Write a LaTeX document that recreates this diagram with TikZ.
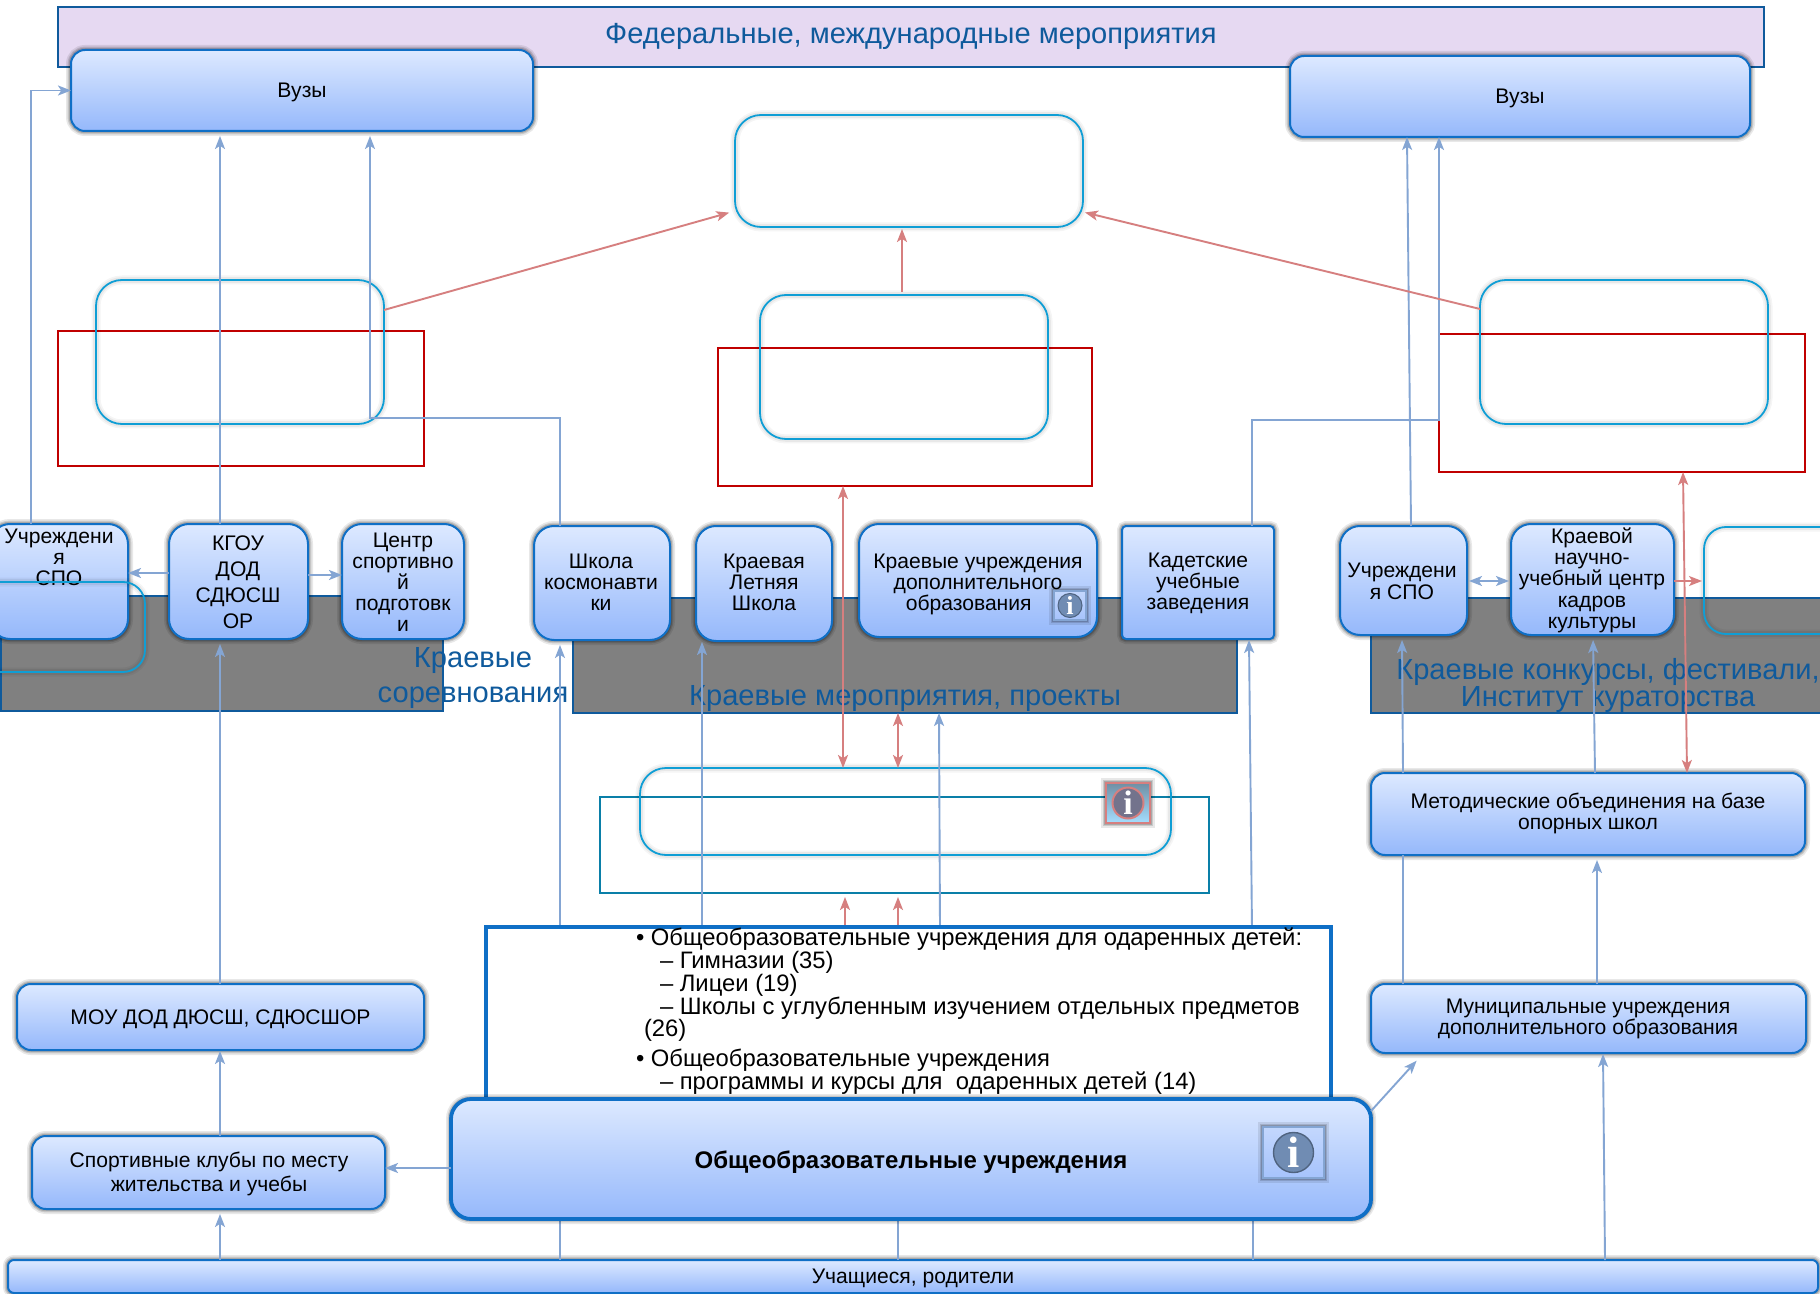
\documentclass[tikz,border=0pt]{standalone}
\usepackage{fontspec}
\setmainfont{Liberation Sans}
\newfontfamily\iserif{Liberation Serif}
\usetikzlibrary{arrows.meta}
\definecolor{nodeb}{HTML}{0F6FC6}
\definecolor{gtop}{HTML}{DDE9FF}
\definecolor{gbot}{HTML}{95B8FB}
\definecolor{lblue}{HTML}{84A5D3}
\definecolor{lred}{HTML}{D67F7F}
\definecolor{darkred}{HTML}{C00000}
\definecolor{cyanb}{HTML}{0F9ED5}
\definecolor{tealb}{HTML}{0A7FA8}
\definecolor{titleb}{HTML}{0F5A9C}
\definecolor{purp}{HTML}{E6D9F2}
\definecolor{icA}{HTML}{C3D7FD}
\definecolor{icB}{HTML}{A6C3FC}
\definecolor{icC}{HTML}{6F8FA5}
\definecolor{icD}{HTML}{A5DEFF}
\tikzset{
  softglow/.style={preaction={draw=black,draw opacity=.09,line width=5pt},preaction={draw=black,draw opacity=.13,line width=3.4pt},preaction={draw=black,draw opacity=.16,line width=2.2pt}},
  softglowc/.style={preaction={draw=black,draw opacity=.04,line width=4.5pt},preaction={draw=black,draw opacity=.05,line width=2.8pt}},
  base/.style={inner sep=0pt,outer sep=0pt,align=center,font=\fontsize{10.55}{10.6}\selectfont},
  tx/.style={base,yshift=-1.15pt},
  bbox/.style={base,softglow,draw=nodeb,line width=1pt,top color=gtop,bottom color=gbot,rounded corners=#1},
  bbox/.default=7pt,
  cbox/.style={base,softglowc,draw=cyanb,line width=.9pt,rounded corners=#1},
  cbox/.default=13pt,
  rbox/.style={base,draw=darkred,line width=.9pt},
  tbox/.style={base,draw=tealb,line width=.9pt},
  gbox/.style={base,draw=titleb,line width=.9pt,fill=gray},
  pbox/.style={base,draw=titleb,line width=.9pt,fill=purp},
  bigt/.style={base,yshift=-1.15pt,text=titleb,font=\fontsize{14.55}{17.3}\selectfont},
  barr/.style={draw=lblue,line width=.95pt,-{Stealth[length=6.5pt,width=5pt,inset=1.6pt]},shorten >=#1},
  barr/.default=2.5pt,
  barrd/.style={draw=lblue,line width=.95pt,{Stealth[length=6.5pt,width=5pt,inset=1.6pt]}-{Stealth[length=6.5pt,width=5pt,inset=1.6pt]},shorten >=1pt,shorten <=1pt},
  bline/.style={draw=lblue,line width=.95pt},
  rarr/.style={draw=lred,line width=.95pt,-{Stealth[length=6.5pt,width=5pt,inset=1.6pt]},shorten >=#1},
  rarr/.default=1pt,
  rarrd/.style={draw=lred,line width=.95pt,{Stealth[length=6.5pt,width=5pt,inset=1.6pt]}-{Stealth[length=6.5pt,width=5pt,inset=1.6pt]}},
  iconsq/.style={inner sep=0pt,outer sep=0pt,softglow,line width=.9pt},
  iconi/.style={circle,inner sep=0pt,outer sep=0pt,text=white,align=center},
}
\newcommand{\boxn}[8][]{\node[#2,#1,minimum width={(#6-#4)*0.5pt},minimum height={(#7-#5)*0.5pt}] (#3) at ({(#4+#6)/2},{(#5+#7)/2}) {#8};}
\newcommand{\iconn}[8]{%
  \node[iconsq,draw=#6,top color=#7,bottom color=#8,minimum width={(#4-#2)*0.5pt},minimum height={(#5-#3)*0.5pt}] (#1) at ({(#2+#4)/2},{(#3+#5)/2}) {};}
\begin{document}
\begin{tikzpicture}[x=0.5pt,y=-0.5pt]
\useasboundingbox (0,0) rectangle (1820,1294);
\fill[white] (0,0) rectangle (1820,1294);
% bands
\boxn{pbox}{top}{58}{7}{1764}{67}{}
\boxn{gbox}{grayL}{1}{596}{443}{711}{}
\boxn{gbox}{grayC}{573}{598}{1237}{713}{}
\boxn{gbox}{grayR}{1371}{598}{1900}{713}{}
\node[bigt] (toptxt) at (911,34) {Федеральные, международные мероприятия};
\node[bigt] (tL) at (473,676) {Краевые\\соревнования};
\node[bigt] (tC) at (905,696) {Краевые мероприятия, проекты};
\node[bigt,font=\fontsize{14.55}{13.4}\selectfont] (tR) at (1608,683) {Краевые конкурсы, фестивали,\\Институт кураторства};
% empty frames
\boxn{rbox}{redL}{58}{331}{424}{466}{}
\boxn{rbox}{redC}{718}{348}{1092}{486}{}
\boxn{rbox}{redR}{1439}{334}{1805}{472}{}
\boxn{tbox}{tealC}{600}{797}{1209}{893}{}
\boxn{cbox}{cyT}{735}{115}{1083}{227}{}
\boxn{cbox}{cyL}{96}{280}{384}{424}{}
\boxn{cbox}{cyC}{760}{295}{1048}{439}{}
\boxn{cbox}{cyR}{1480}{280}{1768}{424}{}
\boxn{cbox}{cyM}{640}{768}{1171}{855}{}
\boxn[rounded corners=11pt]{cbox}{cyRs}{1704}{527}{1900}{634}{}
% boxes
\boxn{bbox}{vuzL}{71}{50}{533}{131}{}
\boxn{bbox}{vuzR}{1290}{56}{1750}{137}{}
\boxn[rounded corners=10pt]{bbox}{spoL}{-10}{524}{128}{639}{}
\boxn[rounded corners=10pt]{bbox}{kgou}{169}{524}{308}{639}{}
\boxn[rounded corners=10pt]{bbox}{centr}{342}{524}{464}{639}{}
\boxn[rounded corners=10pt]{bbox}{shkola}{534}{526}{670}{640}{}
\boxn[rounded corners=10pt]{bbox}{letn}{696}{526}{832}{641}{}
\boxn[rounded corners=10pt]{bbox}{kruch}{859}{524}{1097}{637}{}
\boxn[rounded corners=2pt]{bbox}{kadet}{1122}{526}{1274}{639}{}
\boxn[rounded corners=10pt]{bbox}{spoR}{1340}{526}{1467}{635}{}
\boxn[rounded corners=10pt]{bbox}{kraev}{1511}{524}{1674}{635}{}
\boxn{bbox}{metod}{1371}{773}{1805}{855}{}
\boxn{bbox}{munic}{1371}{984}{1806}{1053}{}
\boxn{bbox}{mou}{17}{984}{424}{1050}{}
\boxn{bbox}{sport}{32}{1136}{385}{1209}{}
\boxn[rounded corners=3pt]{bbox}{uchas}{8}{1260}{1818}{1293}{}
% connectors
\draw[barr=0pt] (spoL.north -| 31,0) |- (vuzL.west);
\draw[barr] (kgou.north -| 220,0) -- (vuzL.south -| 220,0);
\coordinate (eL1) at (560,418);
\coordinate (eL2) at (370,418);
\draw[barr] (shkola.north -| 560,0) -- (eL1) -- (eL2) -- (vuzL.south -| 370,0);
\coordinate (eR1) at (1252,420);
\coordinate (eR2) at (1439,420);
\draw[barr=0pt] (kadet.north -| 1252,0) -- (eR1) -- (eR2) -- (vuzR.south -| 1439,0);
\draw[barr=0pt] (spoR.north -| 1411,0) -- (vuzR.south -| 1407,0);
\draw[rarr=3pt] (cyL.east |- 0,310) -- (cyT.west |- 0,211);
\draw[rarr] (cyR.west |- 0,309) -- (cyT.east |- 0,212);
\draw[rarr,shorten <=1.7pt] (cyC.north -| 902,0) -- (cyT.south -| 902,0);
\draw[rarrd] (redC.south -| 843,0) -- (cyM.north -| 843,0);
\draw[rarrd] (grayC.south -| 898,0) -- (cyM.north -| 898,0);
\draw[barr=0pt] (kgou.west |- 0,573) -- (spoL.east |- 0,573);
\draw[barr=0pt] (kgou.east |- 0,575) -- (centr.west |- 0,575);
\draw[barrd] (spoR.east |- 0,581) -- (kraev.west |- 0,581);
\draw[rarr] (kraev.east |- 0,581) -- (cyRs.west |- 0,581);
\draw[rarrd] (redR.south -| 1683,0) -- (metod.north -| 1687,0);
\draw[barr] (mou.north -| 220,0) -- (kgou.south -| 220,0);
\draw[barr=.5pt] (sport.north -| 220,0) -- (mou.south -| 220,0);
\draw[barr] (uchas.north -| 220,0) -- (sport.south -| 220,0);
\coordinate (w1) at (560,930); \coordinate (w2) at (702,930); \coordinate (w3) at (940,930);
\coordinate (w4) at (1252,930); \coordinate (w5) at (845,930); \coordinate (w6) at (898,930);
\draw[barr] (w1) -- (shkola.south -| 560,0);
\draw[barr=.5pt] (w2) -- (letn.south -| 702,0);
\draw[barr=0pt] (w3) -- (grayC.south -| 939,0);
\draw[barr=.5pt] (w4) -- (kadet.south -| 1249,0);
\draw[rarr=2pt] (w5) -- (tealC.south -| 845,0);
\draw[rarr=2pt] (w6) -- (tealC.south -| 898,0);
\draw[barr] (metod.north -| 1403,0) -- (spoR.south -| 1402,0);
\draw[barr] (metod.north -| 1595,0) -- (kraev.south -| 1593,0);
\draw[barr] (munic.north -| 1597,0) -- (metod.south -| 1597,0);
\draw[bline] (munic.north -| 1403,0) -- (metod.south -| 1403,0);
\draw[barr=.5pt] (uchas.north -| 1605,0) -- (munic.south -| 1603,0);
\coordinate (oL) at (560,1215); \coordinate (oC) at (898,1215); \coordinate (oR) at (1253,1215);
\draw[bline] (uchas.north -| 560,0) -- (oL);
\draw[bline] (uchas.north -| 898,0) -- (oC);
\draw[bline] (uchas.north -| 1253,0) -- (oR);
% texts laid on top of the boxes
\node[tx] (vuzLt) at (vuzL) {Вузы};
\node[tx] (vuzRt) at (vuzR) {Вузы};
\node[tx] (mout) at (mou) {МОУ ДОД ДЮСШ, СДЮСШОР};
\node[tx] (ucht) at (913,1276) {Учащиеся, родители};
\node[tx] (spoLt) at (59,555) {Учреждени\\я\\СПО};
\node[tx,font=\fontsize{10.55}{12.9}\selectfont] (kgout) at (238,580) {КГОУ\\ДОД\\СДЮСШ\\ОР};
\node[tx] (centrt) at (403,580) {Центр\\спортивно\\й\\подготовк\\и};
\node[tx] (shkolat) at (601,580) {Школа\\космонавти\\ки};
\node[tx] (letnt) at (764,580) {Краевая\\Летняя\\Школа};
\node[tx] (krucht) at (978,582) {Краевые учреждения\\дополнительного\\образования\hspace{9.3pt}\null};
\node[tx] (kadett) at (1198,581) {Кадетские\\учебные\\заведения};
\node[tx] (spoRt) at (1402,579) {Учреждени\\я СПО};
\node[tx] (kraevt) at (1592,578) {Краевой\\научно-\\учебный центр\\кадров\\культуры};
\node[tx] (metodt) at (1588,811) {Методические объединения на базе\\опорных школ};
\node[tx] (munict) at (1588,1017) {Муниципальные учреждения\\дополнительного образования};
\node[tx,font=\fontsize{10.55}{12}\selectfont] (sportt) at (209,1172) {Спортивные клубы по месту\\жительства и учебы};
% left small frame above СПО
\boxn[rounded corners=11pt]{cbox}{cyLs}{-40}{582}{145}{672}{}
% info icons
\iconn{iS}{1054}{591}{1086}{620}{lblue}{icA}{icB}
\node[iconi,fill=lblue!85!black,draw=lblue!60!black,line width=.5pt,minimum width=12pt,font=\iserif\bfseries\fontsize{13}{13}\selectfont] (iSc) at (iS) {i};
\iconn{iR}{1106}{783}{1150}{823}{lred}{icC}{icD}
\node[iconi,fill=gray!90!blue,draw=lred,line width=1pt,minimum width=15.5pt,font=\iserif\bfseries\fontsize{17}{17}\selectfont] (iRc) at (iR) {i};
% white list box and the main box
\boxn{base,draw=nodeb,line width=1.6pt,fill=white}{wbox}{486}{927}{1331}{1105}{}
\node[anchor=north west,inner sep=0pt,outer sep=0pt,align=left,font=\fontsize{11.9}{11.4}\selectfont] (wtxt) at (636,928) {\textbullet\ Общеобразовательные учреждения для одаренных детей:\\
\hspace{12pt}– Гимназии (35)\\
\hspace{12pt}– Лицеи (19)\\
\hspace{12pt}– Школы с углубленным изучением отдельных предметов\\
\hspace{4pt}(26)\\[3.6pt]
\textbullet\ Общеобразовательные учреждения\\
\hspace{12pt}– программы и курсы для\ \ одаренных детей (14)};
\boxn[rounded corners=10pt,line width=1.9pt]{bbox}{ou}{451}{1099}{1371}{1219}{}
\node[tx,font=\bfseries\fontsize{12}{12}\selectfont] (out) at (911,1160) {Общеобразовательные учреждения};
\iconn{iB}{1263}{1127}{1324}{1178}{lblue}{icA}{icB}
\node[iconi,fill=lblue!85!black,draw=lblue!60!black,line width=.7pt,minimum width=20pt,font=\iserif\bfseries\fontsize{22}{22}\selectfont] (iBc) at (iB) {i};
\coordinate (muIn) at (1420,1057);
\draw[barr=0pt] (ou.west |- 0,1168) -- (sport.east |- 0,1168);
\draw[barr] (ou.east |- 0,1111) -- (muIn);
\end{tikzpicture}
\end{document}
